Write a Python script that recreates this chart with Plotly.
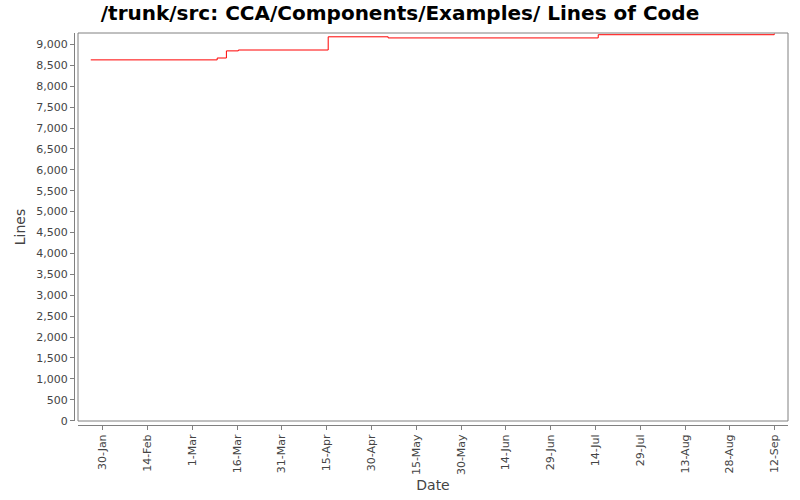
import plotly.graph_objs as go

# step points of the line count
dates = [
    "2007-01-26",
    "2007-03-09 08:00",
    "2007-03-12 10:00",
    "2007-03-16 10:00",
    "2007-04-15 12:00",
    "2007-05-05 14:00",
    "2007-07-14 22:00",
    "2007-09-11 20:00",
    "2007-09-12",
]
lines = [8630, 8675, 8845, 8866, 9182, 9155, 9232, 9255, 9255]

x_range = ["2007-01-21 17:30", "2007-09-16 11:00"]
y_range = [-8, 9273]

AXIS_GREY = "#808080"
TEXT_GREY = "#444444"
FONT = "DejaVu Sans"

fig = go.Figure()
fig.add_trace(
    go.Scatter(
        x=dates,
        y=lines,
        mode="lines",
        line=dict(color="#ff0000", width=1, shape="hv"),
        showlegend=False,
        hoverinfo="x+y",
    )
)

# plot frame, a few pixels inside the axis lines like the original
fig.add_shape(
    type="rect",
    xref="x domain",
    yref="y domain",
    x0=0,
    x1=1,
    y0=0,
    y1=1,
    line=dict(color=AXIS_GREY, width=1),
    layer="above",
)

fig.update_layout(
    width=800,
    height=500,
    margin=dict(l=74, r=12, t=33, b=75, autoexpand=False),
    paper_bgcolor="white",
    plot_bgcolor="white",
    font=dict(family=FONT, size=11, color=TEXT_GREY),
    title=dict(
        text="<b>/trunk/src: CCA/Components/Examples/ Lines of Code</b>",
        font=dict(family=FONT, size=20, color="black"),
        x=0.5,
        xref="container",
        xanchor="center",
        y=1 - 13 / 500,
        yref="container",
        yanchor="middle",
    ),
    xaxis=dict(
        type="date",
        range=x_range,
        domain=[4 / 714, 1],
        anchor="free",
        position=0,
        automargin=False,
        showgrid=False,
        zeroline=False,
        showline=True,
        linecolor=AXIS_GREY,
        linewidth=1,
        ticks="outside",
        ticklen=4,
        tickcolor=AXIS_GREY,
        tick0="2007-01-30",
        dtick=15 * 86400000,
        tickformat="%-d-%b",
        tickangle=-90,
        tickfont=dict(size=11, color=TEXT_GREY),
        title=dict(text="Date", font=dict(size=14, color=TEXT_GREY), standoff=6),
    ),
    yaxis=dict(
        range=y_range,
        domain=[4 / 392, 1],
        anchor="free",
        position=0,
        automargin=False,
        showgrid=False,
        zeroline=False,
        showline=True,
        linecolor=AXIS_GREY,
        linewidth=1,
        ticks="outside",
        ticklen=4,
        tickcolor=AXIS_GREY,
        tick0=0,
        dtick=500,
        tickformat=",d",
        tickfont=dict(size=11, color=TEXT_GREY),
        title=dict(text="Lines", font=dict(size=14, color=TEXT_GREY), standoff=6),
    ),
)

# the page's default 8px body margin would shift the whole chart
fig.write_html(
    "out.html",
    config={"displayModeBar": False},
    post_script="document.body.style.margin = '0';",
)
